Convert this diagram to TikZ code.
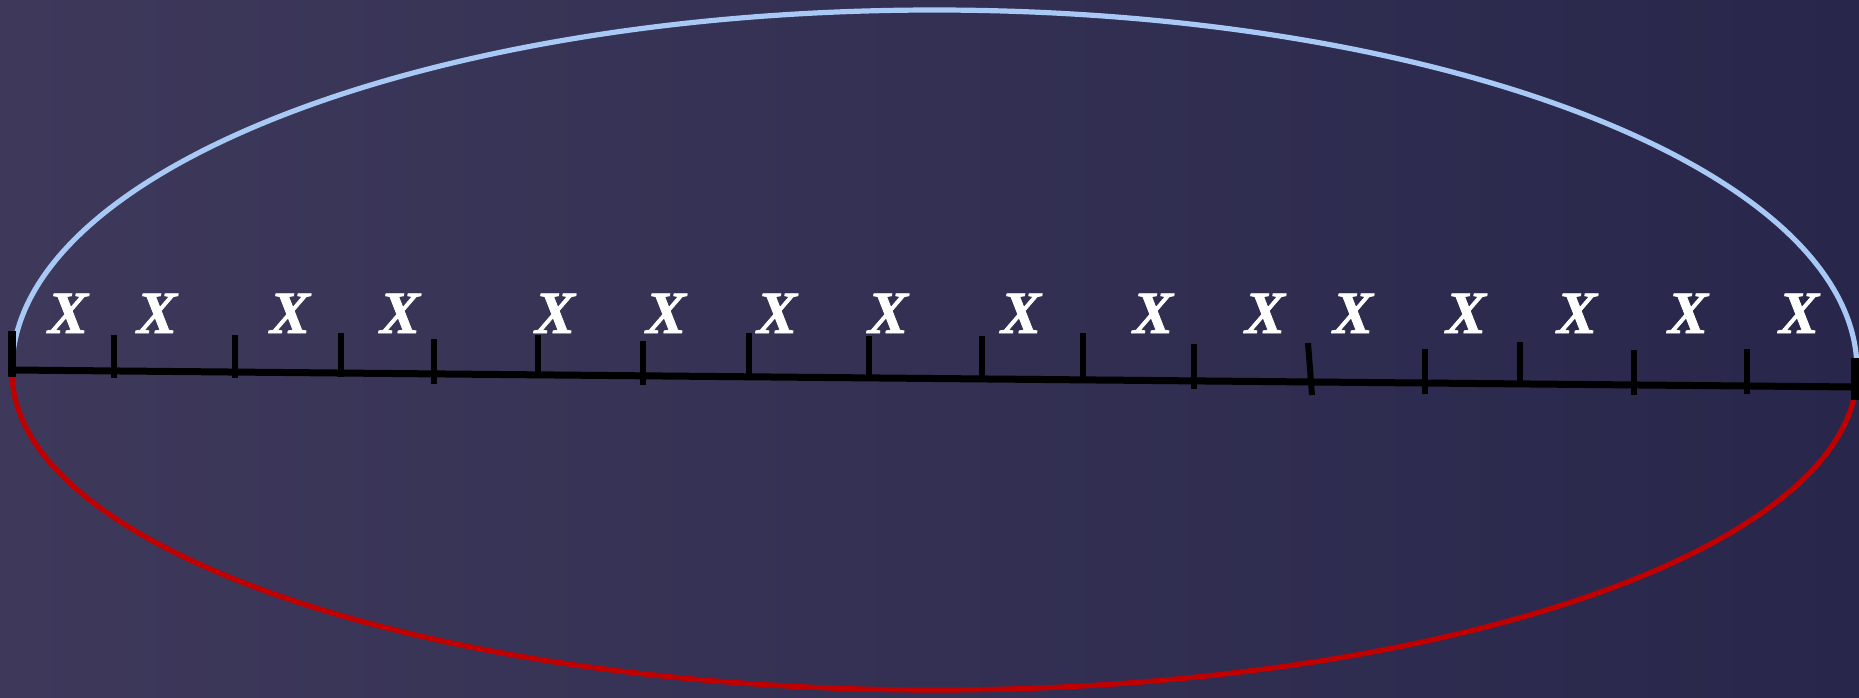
\documentclass[tikz,border=0pt]{standalone}
\usepackage{fontspec}
\setmainfont{Liberation Serif}
\newfontfamily\xfont{Liberation Serif Bold Italic}[FakeBold=1.2]
\begin{document}
\begin{tikzpicture}[x=0.5pt,y=-0.5pt,
  xlab/.style={text=white,inner sep=0pt,anchor=base,font=\fontsize{30pt}{30pt}\xfont},
  axisline/.style={line width=3.5pt,black},
  tickmark/.style={line width=3pt,black},
  upperarc/.style={line width=2.6pt,draw=arcblue},
  lowerarc/.style={line width=2.6pt,draw=arcred}]
\definecolor{bgL}{RGB}{62,57,91}
\definecolor{bgR}{RGB}{40,39,75}
\definecolor{arcblue}{RGB}{168,200,245}
\definecolor{arcred}{RGB}{192,0,0}
\useasboundingbox (0,0) rectangle (1859,697);
\shade[left color=bgL,right color=bgR] (0,0) rectangle (1859,697);
% ellipse halves
\draw[upperarc] (12,370) arc[start angle=180,end angle=360,x radius=922.5,y radius=360];
\draw[lowerarc] (12,372) arc[start angle=180,end angle=0,x radius=922.5,y radius=318];
% axis
\coordinate (L) at (12,370);
\coordinate (R) at (1857,387);
\draw[axisline] (L) -- (R);
\draw[line width=4pt] (12,331) -- (12,377);
\draw[line width=4pt] (1855,358) -- (1855,400);
% ticks
\foreach \x/\t/\b in {114/335/378,235/335/378,341/333/377,434/339/384,538/335/373,643/341/385,749/333/374,869/336/375,982/336/377,1083/333/378,1194/344/389,1425/349/394,1520/342/383,1634/350/395,1747/349/394}
  \draw[tickmark] (\x,\t) -- (\x,\b);
\draw[tickmark] (1308,343) -- (1312,395);
% labels
\foreach \i/\x in {1/68,2/157,3/290,4/400,5/555,6/666,7/777,8/888,9/1021,10/1153,11/1265,12/1353,13/1466,14/1577,15/1688,16/1799}
  \node[xlab] (x\i) at (\x,333) {X};
\end{tikzpicture}
\end{document}
